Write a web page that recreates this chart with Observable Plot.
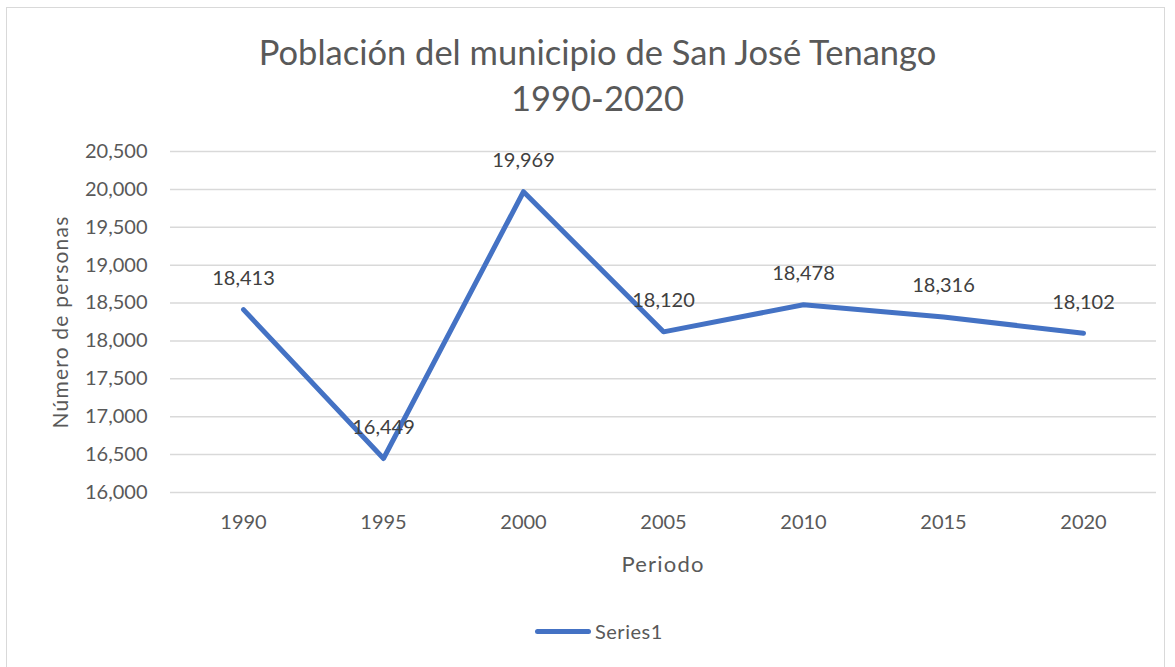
<!DOCTYPE html>
<html>
<head>
<meta charset="utf-8">
<script src="https://cdn.jsdelivr.net/npm/d3@7"></script>
<script src="https://cdn.jsdelivr.net/npm/@observablehq/plot@0.6"></script>
<style>
  html, body { margin: 0; padding: 0; background: #fff; }
  body { width: 1175px; height: 667px; position: relative; overflow: hidden; font-family: Lato, "Noto Sans", sans-serif; }
  #frame { position: absolute; left: 6px; top: 7px; width: 1159px; height: 680px; border: 1px solid #d9d9d9; box-sizing: border-box; }
  #chart { position: absolute; left: 0; top: 0; }
  .title { position: absolute; left: 0; width: 1195px; text-align: center; color: #595959; font-size: 34.5px; line-height: 40px; }
  #ylabel { position: absolute; left: 59px; top: 322px; transform: translate(-50%, -50%) rotate(-90deg); color: #595959; font-size: 21px; white-space: nowrap; letter-spacing: 1.2px; }
  #xlabel { position: absolute; left: 663px; top: 563px; transform: translate(-50%, -50%); color: #595959; font-size: 22px; letter-spacing: 1.2px; }
  #legend { position: absolute; left: 535px; top: 619px; display: flex; align-items: center; color: #595959; font-size: 20px; letter-spacing: 0.5px; }
  #legend .swatch { width: 56px; height: 5px; border-radius: 3px; background: #4472c4; margin-right: 4px; }
</style>
</head>
<body>
<div id="frame"></div>
<div id="chart"></div>
<div class="title" style="top:32px;">Población del municipio de San José Tenango</div>
<div class="title" style="top:78px;">1990-2020</div>
<div id="ylabel">Número de personas</div>
<div id="xlabel">Periodo</div>
<div id="legend"><div class="swatch"></div><span>Series1</span></div>
<script>
const years = ["1990", "1995", "2000", "2005", "2010", "2015", "2020"];
const population = [18413, 16449, 19969, 18120, 18478, 18316, 18102];
const yTicks = [16000, 16500, 17000, 17500, 18000, 18500, 19000, 19500, 20000, 20500];

const data = years.map((y, i) => ({year: y, value: population[i]}));
const fmt = d3.format(",");

const chart = Plot.plot({
  width: 1175,
  height: 667,
  marginTop: 151,
  marginBottom: 175,
  marginLeft: 170,
  marginRight: 19,
  style: {fontFamily: "Lato, 'Noto Sans', sans-serif", fontSize: "20px", color: "#595959", background: "transparent"},
  x: {type: "point", domain: years, padding: 0.5, label: null},
  y: {domain: [16000, 20500], ticks: yTicks, label: null},
  marks: [
    Plot.gridY(yTicks, {stroke: "#d9d9d9", strokeOpacity: 1, strokeWidth: 1.5}),
    Plot.axisY(yTicks, {tickSize: 0, tickPadding: 23, tickFormat: fmt, fontSize: 20, label: null}),
    Plot.axisX(years, {tickSize: 0, tickPadding: 22, fontSize: 20, label: null}),
    Plot.line(data, {x: "year", y: "value", stroke: "#4472c4", strokeWidth: 5, strokeLinecap: "round", strokeLinejoin: "round"}),
    Plot.text(data, {x: "year", y: "value", text: d => fmt(d.value), dy: -31, fill: "#404040", fontSize: 20})
  ]
});
document.getElementById("chart").appendChild(chart);
</script>
</body>
</html>
